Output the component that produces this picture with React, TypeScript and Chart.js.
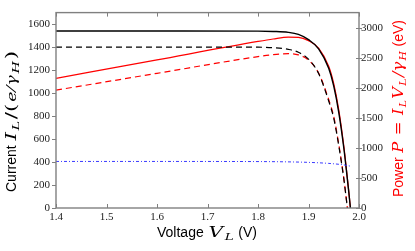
import React, { useEffect, useRef } from "react";
import { Chart, registerables } from "chart.js";

Chart.register(...registerables);

// ---- data ----
const solidV = [1.4, 1.6, 1.8, 1.83, 1.86, 1.88, 1.9, 1.92, 1.94, 1.95, 1.96, 1.97, 1.975, 1.98, 1.983];
const solidCurrent = [1540, 1540, 1539, 1536, 1528, 1510, 1465, 1385, 1215, 1060, 830, 520, 330, 130, 0];
const solidPower = [2156, 2464, 2770, 2811, 2842, 2839, 2784, 2659, 2357, 2067, 1627, 1024, 652, 257, 0];

const dashedV = [1.4, 1.6, 1.8, 1.83, 1.86, 1.88, 1.9, 1.92, 1.94, 1.95, 1.96, 1.97, 1.977];
const dashedCurrent = [1400, 1400, 1399, 1394, 1380, 1355, 1295, 1170, 930, 780, 540, 250, 0];
const dashedPower = [1960, 2240, 2518, 2551, 2567, 2547, 2461, 2246, 1804, 1521, 1058, 493, 0];

const blueV = [1.4, 1.6, 1.8, 1.85, 1.9, 1.94, 1.97, 1.982];
const blueCurrent = [405, 405, 404, 402, 397, 388, 375, 365];

const xTicks = [1.4, 1.5, 1.6, 1.7, 1.8, 1.9, 2.0];
const leftTicks = [0, 200, 400, 600, 800, 1000, 1200, 1400, 1600];
const rightTicks = [0, 500, 1000, 1500, 2000, 2500, 3000];

const pts = (xs: number[], ys: number[]) => xs.map((x, i) => ({ x, y: ys[i] }));

type Run = { t: string; f: string; sub?: boolean; m?: boolean };

const SANS = "14px 'Liberation Sans', Arial, sans-serif";
const MATH = "italic 15px 'DejaVu Serif', serif";
const MROM = "15px 'DejaVu Serif', serif";
const SUB = "italic 10px 'DejaVu Serif', serif";
const SMALLM = "italic 12px 'DejaVu Serif', serif";
const SMALLR = "12px 'DejaVu Serif', serif";
const GAP = 1.2;

function drawRuns(
  ctx: CanvasRenderingContext2D,
  runs: Run[],
  cx: number,
  cy: number,
  angle: number,
  color: string,
  target: number
) {
  ctx.save();
  let textW = 0;
  let mathW = 0;
  const widths = runs.map((r) => {
    ctx.font = r.f;
    const w = ctx.measureText(r.t).width + (r.m ? GAP : 0);
    if (r.m) mathW += w;
    else textW += w;
    return w;
  });
  const ms = mathW > 0 ? Math.min(1.5, Math.max(0.9, (target - textW) / mathW)) : 1;
  const total = textW + mathW * ms;
  ctx.translate(cx, cy);
  ctx.rotate(angle);
  ctx.fillStyle = color;
  ctx.textBaseline = "alphabetic";
  ctx.textAlign = "left";
  let x = -total / 2;
  runs.forEach((r, i) => {
    ctx.font = r.f;
    const s = r.m ? ms : 1;
    ctx.save();
    ctx.translate(x, 5 + (r.sub ? 3 : 0));
    ctx.scale(s, 1);
    ctx.fillText(r.t, r.m ? GAP / 2 : 0, 0);
    ctx.restore();
    x += widths[i] * s;
  });
  ctx.restore();
}

const framePlugin = {
  id: "frameAndTitles",
  afterDraw(chart: any) {
    const { ctx, chartArea: a, scales } = chart;
    ctx.save();
    ctx.strokeStyle = "#808080";
    ctx.lineWidth = 1.4;
    ctx.strokeRect(a.left, a.top, a.right - a.left, a.bottom - a.top);
    ctx.lineWidth = 1;
    ctx.beginPath();
    xTicks.forEach((v) => {
      const px = Math.round(scales.x.getPixelForValue(v)) + 0.5;
      ctx.moveTo(px, a.bottom);
      ctx.lineTo(px, a.bottom - 4);
      ctx.moveTo(px, a.top);
      ctx.lineTo(px, a.top + 4);
    });
    leftTicks.forEach((v) => {
      const py = Math.round(scales.y.getPixelForValue(v)) + 0.5;
      ctx.moveTo(a.left - 4, py);
      ctx.lineTo(a.left, py);
    });
    rightTicks.forEach((v) => {
      const py = Math.round(scales.y1.getPixelForValue(v)) + 0.5;
      ctx.moveTo(a.right - 3, py);
      ctx.lineTo(a.right + 3, py);
    });
    ctx.stroke();
    ctx.restore();

    drawRuns(
      ctx,
      [
        { t: "Current ", f: SANS },
        { t: "I", f: MATH, m: true },
        { t: "L", f: SUB, sub: true, m: true },
        { t: "/(", f: MROM, m: true },
        { t: "e", f: SMALLM, m: true },
        { t: "⁄", f: SMALLR, m: true },
        { t: "γ", f: SMALLM, m: true },
        { t: "H", f: SUB, sub: true, m: true },
        { t: ")", f: MROM, m: true },
      ],
      11,
      121,
      -Math.PI / 2,
      "#000",
      142
    );
    drawRuns(
      ctx,
      [
        { t: "Power ", f: SANS },
        { t: "P", f: MATH, m: true },
        { t: " = ", f: MROM, m: true },
        { t: "I", f: MATH, m: true },
        { t: "L", f: SUB, sub: true, m: true },
        { t: "V", f: MATH, m: true },
        { t: "L", f: SUB, sub: true, m: true },
        { t: "/γ", f: MATH, m: true },
        { t: "H", f: SUB, sub: true, m: true },
        { t: " (eV)", f: SANS },
      ],
      397.5,
      108.5,
      -Math.PI / 2,
      "#ff0000",
      177
    );
    drawRuns(
      ctx,
      [
        { t: "Voltage ", f: SANS },
        { t: "V", f: MATH, m: true },
        { t: "L", f: SUB, sub: true, m: true },
        { t: " (V)", f: SANS },
      ],
      207,
      232,
      0,
      "#000",
      100
    );
  },
};

const tickFont = { family: "'Liberation Serif', serif", size: 11 };
const plain = (v: any) => String(v);

export default function App() {
  const ref = useRef<HTMLCanvasElement | null>(null);
  useEffect(() => {
    if (!ref.current) return;
    const chart = new Chart(ref.current, {
      type: "line",
      data: {
        datasets: [
          {
            data: pts(blueV, blueCurrent),
            yAxisID: "y",
            borderColor: "#3a3aff",
            borderWidth: 1,
            borderDash: [3, 2, 1, 2],
            pointRadius: 0,
            cubicInterpolationMode: "monotone",
          },
          {
            data: pts(dashedV, dashedCurrent),
            yAxisID: "y",
            borderColor: "#000000",
            borderWidth: 1.2,
            borderDash: [6, 4],
            pointRadius: 0,
            cubicInterpolationMode: "monotone",
          },
          {
            data: pts(solidV, solidCurrent),
            yAxisID: "y",
            borderColor: "#000000",
            borderWidth: 1.4,
            pointRadius: 0,
            cubicInterpolationMode: "monotone",
          },
          {
            data: pts(dashedV, dashedPower),
            yAxisID: "y1",
            borderColor: "#ff0000",
            borderWidth: 1.2,
            borderDash: [6, 4],
            pointRadius: 0,
            cubicInterpolationMode: "monotone",
          },
          {
            data: pts(solidV, solidPower),
            yAxisID: "y1",
            borderColor: "#ff0000",
            borderWidth: 1.2,
            pointRadius: 0,
            cubicInterpolationMode: "monotone",
          },
        ],
      } as any,
      options: {
        animation: false,
        responsive: false,
        events: [],
        layout: { padding: { top: 7, left: 0, right: 0, bottom: 0 } },
        plugins: { legend: { display: false }, tooltip: { enabled: false } },
        scales: {
          x: {
            type: "linear",
            min: 1.4,
            max: 2.0,
            grid: { display: false, drawTicks: false },
            border: { display: false },
            ticks: { font: tickFont, color: "#222", padding: 3, maxRotation: 0, callback: (v: any) => Number(v).toFixed(1) },
            afterBuildTicks: (s: any) => { s.ticks = xTicks.map((v) => ({ value: v })); },
            afterFit: (s: any) => { s.height = 43; },
          },
          y: {
            type: "linear",
            position: "left",
            min: 0,
            max: 1700,
            grid: { display: false, drawTicks: false },
            border: { display: false },
            ticks: { font: tickFont, color: "#222", padding: 6, callback: plain },
            afterBuildTicks: (s: any) => { s.ticks = leftTicks.map((v) => ({ value: v })); },
            afterFit: (s: any) => { s.width = 56; },
          },
          y1: {
            type: "linear",
            position: "right",
            min: 0,
            max: 3250,
            grid: { display: false, drawTicks: false },
            border: { display: false },
            ticks: { font: tickFont, color: "#222", padding: 2, callback: plain },
            afterBuildTicks: (s: any) => { s.ticks = rightTicks.map((v) => ({ value: v })); },
            afterFit: (s: any) => { s.width = 56; },
          },
        },
      } as any,
      plugins: [framePlugin],
    });
    return () => chart.destroy();
  }, []);
  return (
    <div style={{ position: "fixed", left: 0, top: 0, width: 415, height: 251, background: "#fff" }}>
      <canvas ref={ref} width={415} height={251} style={{ width: 415, height: 251, display: "block" }} />
    </div>
  );
}
